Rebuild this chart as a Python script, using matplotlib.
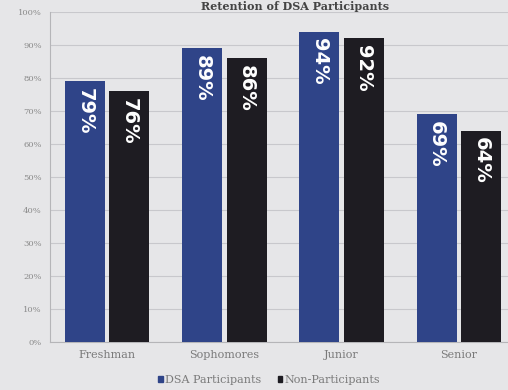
import numpy as np
import matplotlib.pyplot as plt
from matplotlib.patches import Patch

# данные графика
categories = ['Freshman', 'Sophomores', 'Junior', 'Senior']
dsa = [79, 89, 94, 69]  # DSA Participants
non = [76, 86, 92, 64]  # Non-Participants
series_names = ['DSA Participants', 'Non-Participants']
title = 'Retention of DSA Participants'

blue = '#2f4488'
dark = '#1e1c22'
bg = '#e6e6e8'

fig = plt.figure(figsize=(5.08, 3.90), dpi=100, facecolor=bg)
ax = fig.add_axes([50 / 508, 48 / 390, 466 / 508, 330 / 390])
ax.set_facecolor(bg)

x = np.arange(len(categories))
w = 0.34
off = 0.19
b1 = ax.bar(x - off, dsa, w, color=blue, zorder=3)
b2 = ax.bar(x + off, non, w, color=dark, zorder=3)

# подписи внутри столбцов
for bars, vals in ((b1, dsa), (b2, non)):
    for r, v in zip(bars, vals):
        ax.text(r.get_x() + r.get_width() / 2, v - 2, f'{v}%', rotation=270,
                ha='center', va='top', color='white', fontsize=14,
                fontweight='bold', zorder=4)

ax.set_ylim(0, 100)
ax.set_xlim(-0.487, 3.487)
ax.set_yticks(np.arange(0, 101, 10))
ax.set_yticklabels([f'{t}%' for t in range(0, 101, 10)],
                   fontsize=6, color='#8a8a8a', family='DejaVu Serif')
ax.set_xticks(x)
ax.set_xticklabels(categories, fontsize=8, color='#7a7a7a', family='DejaVu Serif')
ax.tick_params(axis='both', length=0, pad=6)
ax.grid(axis='y', color='#c8c8cc', linewidth=0.8, zorder=0)
for s in ['top', 'right']:
    ax.spines[s].set_visible(False)
ax.spines['left'].set_color('#b5b5b8')
ax.spines['bottom'].set_color('#b5b5b8')

handles = [Patch(color=blue), Patch(color=dark)]
fig.legend(handles, series_names, loc='center', bbox_to_anchor=(0.53, 0.025),
           ncol=2, frameon=False, handlelength=0.4, handleheight=0.4,
           handletextpad=0.2, columnspacing=1.5,
           prop={'family': 'DejaVu Serif', 'size': 8}, labelcolor='#7a7a7a')

fig.text(0.58, 0.998, title, ha='center', va='top', fontsize=8,
         fontweight='bold', color='#444444', family='DejaVu Serif')

fig.savefig('out.png', dpi=100, facecolor=bg)
